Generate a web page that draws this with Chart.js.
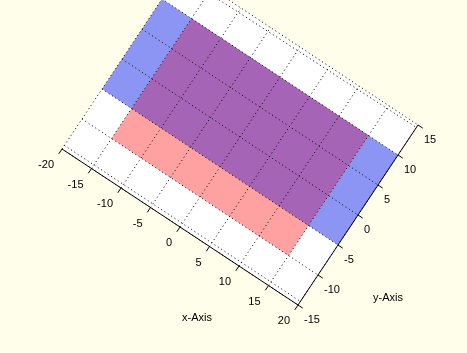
<!DOCTYPE html>
<html>
<head>
<meta charset="utf-8">
<script src="https://cdn.jsdelivr.net/npm/chart.js@4/dist/chart.umd.min.js"></script>
<style>
    html, body { margin: 0; padding: 0; background: #fffeeb; }
    #wrap { width: 467px; height: 353px; position: relative; }
</style>
</head>
<body>
<div id="wrap"><canvas id="chart"></canvas></div>
<script>
// axis ticks (data units)
const xTicks = [-20, -15, -10, -5, 0, 5, 10, 15, 20];
const yTicks = [-15, -10, -5, 0, 5, 10, 15];
const axisTitles = ['x-Axis', 'y-Axis'];

// the two rectangles, as [from, to] ranges
const blueX = [-20, 20];
const blueY = [-5, 10];
const redX = [-15, 15];
const redY = [-10, 10];

// projection of the tilted floor onto the page (pixels)
const view = {
    ox: 240, oy: 137,         // where (0,0) lands
    ex: [5.9, 3.9],           // one x unit
    ey: [4.0, -6.0],          // one y unit
    font: '11px "Liberation Sans", Arial, sans-serif'
};

function project(x, y) {
    return {
        x: view.ox + x * view.ex[0] + y * view.ey[0],
        y: view.oy + x * view.ex[1] + y * view.ey[1]
    };
}

function rectPoints(xr, yr) {
    return [
        project(xr[0], yr[0]), project(xr[1], yr[0]),
        project(xr[1], yr[1]), project(xr[0], yr[1]),
        project(xr[0], yr[0])
    ];
}

function segment(x0, y0, x1, y1) {
    return [project(x0, y0), project(x1, y1)];
}

const xMin = xTicks[0], xMax = xTicks[xTicks.length - 1];
const yMin = yTicks[0], yMax = yTicks[yTicks.length - 1];

const overlapX = [Math.max(blueX[0], redX[0]), Math.min(blueX[1], redX[1])];
const overlapY = [Math.max(blueY[0], redY[0]), Math.min(blueY[1], redY[1])];

function shape(data, color, order) {
    return {
        data: data, showLine: true, fill: 'shape', backgroundColor: color,
        borderColor: 'rgba(0,0,0,0)', borderWidth: 0, pointRadius: 0, order: order
    };
}

function line(data, dashed, order) {
    return {
        data: data, showLine: true, fill: false, borderColor: '#000',
        borderWidth: 1, borderDash: dashed ? [1, 3] : [], pointRadius: 0, order: order
    };
}

const datasets = [];
datasets.push(shape(rectPoints([xMin, xMax], [yMin, yMax]), '#ffffff', 20));
datasets.push(shape(rectPoints(blueX, blueY), '#8c95f4', 19));
datasets.push(shape(rectPoints(redX, redY), '#ffa1a1', 18));
datasets.push(shape(rectPoints(overlapX, overlapY), '#a564b5', 17));

// dotted floor grid
xTicks.forEach(x => datasets.push(line(segment(x, yMin, x, yMax), true, 10)));
yTicks.forEach(y => datasets.push(line(segment(xMin, y, xMax, y), true, 10)));
// wall edges seen almost edge-on
datasets.push(line(segment(xMin, yMax - 0.8, xMax, yMax - 0.4), true, 10));
datasets.push(line(segment(xMin, yMin + 0.6, xMax, yMin + 0.6), true, 10));

// solid axes with tick marks
datasets.push(line(segment(xMin, yMin, xMax, yMin), false, 5));
datasets.push(line(segment(xMax, yMin, xMax, yMax), false, 5));
xTicks.forEach(x => datasets.push(line(segment(x, yMin, x, yMin - 0.8), false, 5)));
yTicks.forEach(y => datasets.push(line(segment(xMax, y, xMax + 0.8, y), false, 5)));

const labelPlugin = {
    id: 'axisLabels',
    afterDatasetsDraw(chart) {
        const ctx = chart.ctx;
        const sx = chart.scales.x, sy = chart.scales.y;
        const px = p => ({ x: sx.getPixelForValue(p.x), y: sy.getPixelForValue(p.y) });
        ctx.save();
        ctx.fillStyle = '#000';
        ctx.font = view.font;
        ctx.textBaseline = 'middle';

        ctx.textAlign = 'right';
        xTicks.forEach(x => {
            const p = px(project(x, yMin));
            ctx.fillText(String(x), p.x - 8, p.y + 16);
        });

        ctx.textAlign = 'left';
        yTicks.forEach(y => {
            const p = px(project(xMax, y));
            ctx.fillText(String(y), p.x + 6, p.y + 15);
        });

        ctx.textAlign = 'center';
        const xm = px(project((xMin + xMax) / 2, yMin));
        ctx.fillText(axisTitles[0], xm.x + 17, xm.y + 91);
        const ym = px(project(xMax, (yMin + yMax) / 2));
        ctx.fillText(axisTitles[1], ym.x + 30, ym.y + 83);
        ctx.restore();
    }
};

new Chart(document.getElementById('chart').getContext('2d'), {
    type: 'scatter',
    data: { datasets: datasets },
    plugins: [labelPlugin],
    options: {
        responsive: true,
        maintainAspectRatio: false,
        animation: false,
        layout: { padding: 0 },
        scales: {
            x: { type: 'linear', min: 0, max: 467, display: false },
            y: { type: 'linear', min: 0, max: 353, reverse: true, display: false }
        },
        plugins: {
            legend: { display: false },
            tooltip: { enabled: false }
        }
    }
});
</script>
</body>
</html>
